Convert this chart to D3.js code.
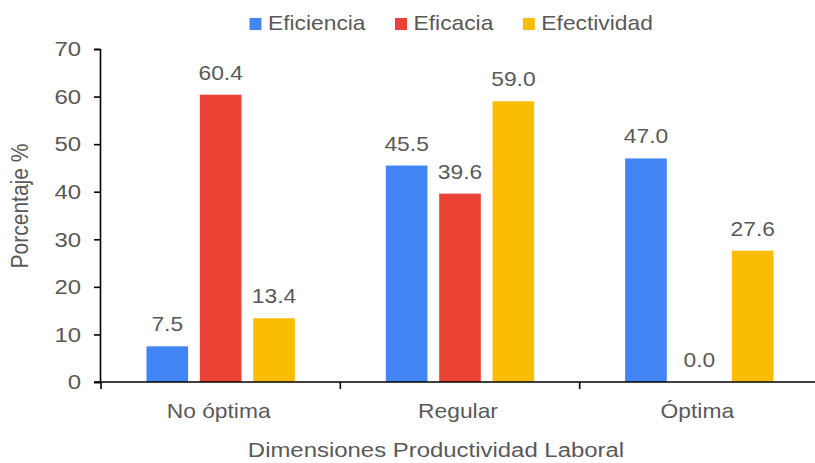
<!DOCTYPE html>
<html>
<head>
<meta charset="utf-8">
<script src="https://cdn.jsdelivr.net/npm/d3@7"></script>
<style>
  body { margin: 0; background: #fff; }
  text { font-family: "Liberation Sans", Arial, sans-serif; }
</style>
</head>
<body>
<svg id="chart" width="815" height="463"></svg>
<script>
// data
categories = ["No óptima", "Regular", "Óptima"];
seriesNames = ["Eficiencia", "Eficacia", "Efectividad"];
eficiencia = [7.5, 45.5, 47.0];
eficacia = [60.4, 39.6, 0.0];
efectividad = [13.4, 59.0, 27.6];
yTicks = [0, 10, 20, 30, 40, 50, 60, 70];

seriesValues = [eficiencia, eficacia, efectividad];
colors = ["#4285F4", "#EA4335", "#FBBC04"];
textColor = "#595959";
stretch = "scale(1.14,1)";   // the picture is slightly wider than tall

svg = d3.select("#chart");

x0 = d3.scaleBand().domain(categories).range([101, 819]).paddingInner(0);
bw = x0.bandwidth();
x1 = d3.scaleBand().domain(seriesNames)
       .range([(bw - bw * 0.62) / 2, (bw + bw * 0.62) / 2])
       .paddingInner(0.22);
y = d3.scaleLinear().domain([0, 70]).range([382, 49]);

// bars + value labels
categories.forEach(function(cat, i){
     g = svg.append("g").attr("transform", "translate(" + x0(cat) + ",0)");
     seriesNames.forEach(function(s, j){
          v = seriesValues[j][i];
          g.append("rect")
               .attr("x", x1(s))
               .attr("y", y(v))
               .attr("width", x1.bandwidth())
               .attr("height", y(0) - y(v))
               .style("fill", colors[j]);
          g.append("text")
               .text(v.toFixed(1))
               .attr("transform", "translate(" + (x1(s) + x1.bandwidth() / 2) + "," + (y(v) - 15) + ") " + stretch)
               .attr("text-anchor", "middle")
               .attr("font-size", "20px")
               .attr("fill", textColor);
     });
});

// y axis
yAxis = svg.append("g")
     .attr("transform", "translate(100,0)")
     .call(d3.axisLeft(y).tickValues(yTicks).tickSize(6).tickFormat(d3.format("d")));
yAxis.select(".domain").attr("stroke", "#000").attr("stroke-width", 1.6);
yAxis.selectAll(".tick line").attr("stroke", "#000").attr("stroke-width", 1.6);
yAxis.selectAll(".tick text")
     .attr("x", null)
     .attr("transform", "translate(-19,0) " + stretch)
     .attr("font-size", "21px")
     .attr("font-family", null)
     .attr("fill", textColor);

// x axis
xAxis = svg.append("g")
     .attr("transform", "translate(0,382)")
     .call(d3.axisBottom(x0).tickSize(0).tickSizeOuter(0));
xAxis.select(".domain").attr("stroke", "#000").attr("stroke-width", 1.6)
     .attr("d", "M94,0H" + x0.range()[1]);
xAxis.selectAll(".tick text")
     .attr("y", null).attr("dy", null)
     .attr("transform", "translate(-2,36) " + stretch)
     .attr("font-size", "20px")
     .attr("font-family", null)
     .attr("fill", textColor);
boundaries = categories.map(function(c){ return x0(c); }).concat([x0.range()[1]]);
xAxis.selectAll(".bound").data(boundaries).enter().append("line")
     .attr("class", "bound")
     .attr("x1", function(d){ return d; })
     .attr("x2", function(d){ return d; })
     .attr("y1", 0).attr("y2", 7)
     .attr("stroke", "#000").attr("stroke-width", 1.6);

// axis titles
svg.append("text")
     .text("Dimensiones Productividad Laboral")
     .attr("transform", "translate(436,457) " + stretch)
     .attr("text-anchor", "middle")
     .attr("font-size", "21px")
     .attr("fill", textColor);
svg.append("text")
     .text("Porcentaje %")
     .attr("transform", "translate(28,206) " + stretch + " rotate(-90)")
     .attr("text-anchor", "middle")
     .attr("font-size", "21px")
     .attr("fill", textColor);

// legend
lx = 249.5;
seriesNames.forEach(function(s, j){
     svg.append("rect")
          .attr("x", lx).attr("y", 18)
          .attr("width", 12).attr("height", 12)
          .style("fill", colors[j]);
     t = svg.append("text")
          .text(s)
          .attr("transform", "translate(" + (lx + 18.5) + ",30) " + stretch)
          .attr("font-size", "20px")
          .attr("fill", textColor);
     lx = lx + 18.5 + t.node().getComputedTextLength() * 1.14 + 29.5;
});
</script>
</body>
</html>
